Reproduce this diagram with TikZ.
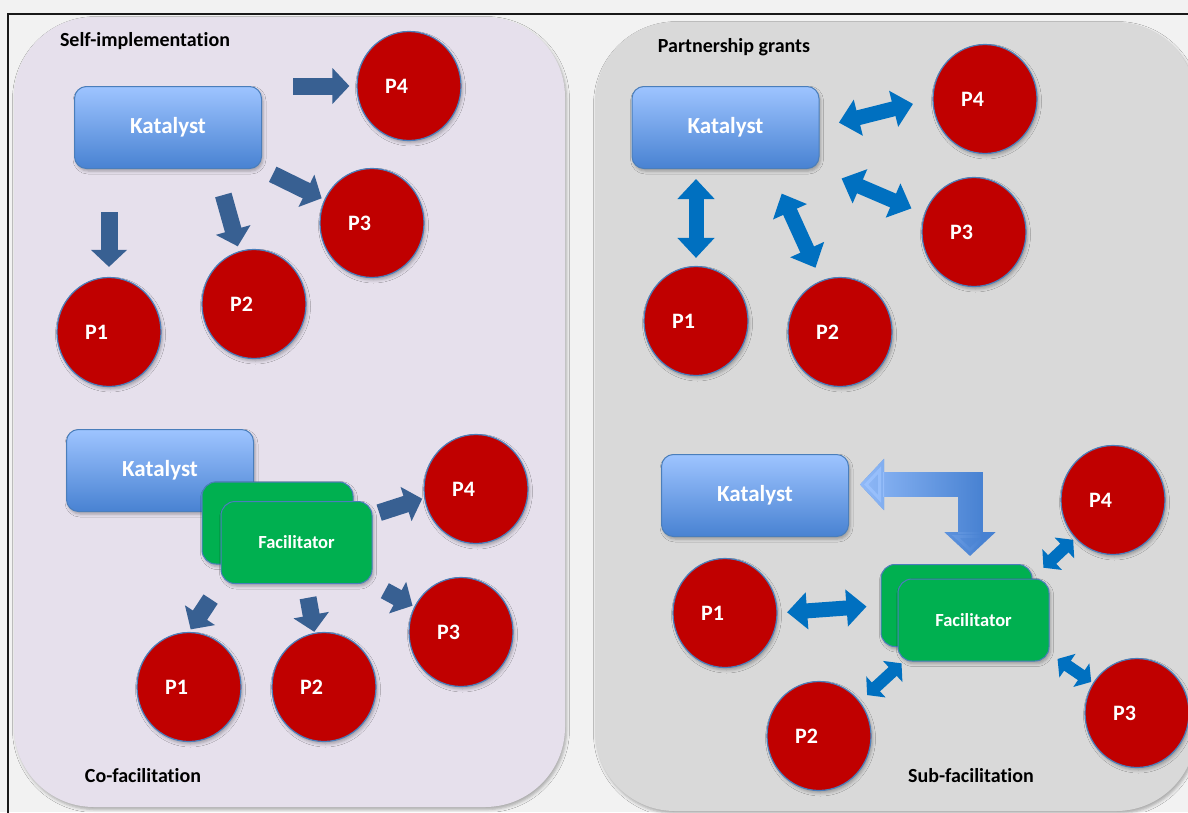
\documentclass[tikz,border=0pt]{standalone}
\usepackage{fontspec}
\setmainfont{Carlito}[Ligatures={NoCommon}]
\usepackage{tikz}
\usetikzlibrary{shapes,arrows.meta,positioning,shadows.blur,calc,fadings}
\definecolor{bgc}{HTML}{F2F2F2}
\definecolor{panelL}{HTML}{E6E0EC}
\definecolor{panelR}{HTML}{D9D9D9}
\definecolor{katlight}{HTML}{9EC4FF}
\definecolor{katdark}{HTML}{4882D2}
\definecolor{boxline}{HTML}{4A7EBB}
\definecolor{pred}{HTML}{C00000}
\definecolor{facgreen}{HTML}{00B050}
\definecolor{flowblue}{HTML}{386092}
\definecolor{linkblue}{HTML}{0070C0}

\begin{document}
\begin{tikzpicture}[x=1pt, y=-1pt,
    soft/.style={blur shadow={shadow xshift=1.5pt, shadow yshift=-2.5pt, shadow blur radius=3pt, shadow opacity=30}},
    panel/.style={rounded corners=80pt, soft},
    katbox/.style={rectangle, rounded corners=12pt, draw=boxline, line width=1pt, top color=katlight, bottom color=katdark, minimum width=187pt, minimum height=82pt, text=white, font=\fontsize{23}{27}\selectfont\bfseries, soft},
    facbox/.style={rectangle, rounded corners=14pt, draw=boxline, line width=1pt, fill=facgreen, minimum width=151pt, minimum height=82pt, text=white, font=\fontsize{18.5}{22}\selectfont\bfseries, soft},
    pnode/.style={ellipse, draw=boxline, line width=1.2pt, fill=pred, minimum width=104pt, minimum height=109pt, inner sep=0pt, text=white, font=\fontsize{22}{26}\selectfont\bfseries, execute at end node={\hspace*{25pt}}, soft},
    caption/.style={font=\fontsize{20}{24}\selectfont\bfseries, text=black},
    flow/.style={draw=flowblue, line width=17pt, -{Triangle[width=35pt, length=17pt]}},
    link/.style={draw=linkblue, line width=15pt, {Triangle[width=36pt, length=20pt]}-{Triangle[width=36pt, length=20pt]}},
    smalllink/.style={draw=linkblue, line width=12pt, {Triangle[width=28pt, length=12pt]}-{Triangle[width=28pt, length=12pt]}},
    bent/.style={line width=25pt, line join=miter, {Triangle[width=50pt, length=24pt]}-{Triangle[width=50pt, length=24pt]}}
]

    \useasboundingbox (0,0) rectangle (1188,812);
    \fill[bgc] (0,0) rectangle (1188,812);
    \draw[line width=2.5pt, black!90] (8,830) |- (1200,14);

    \fill[panelL, panel] (14,17) rectangle (565,807);
    \fill[panelR, panel] (595,22) rectangle (1196,811);

    \node[caption] (tself) at (145,41) {Self-implementation};
    \node[caption] (tpart) at (734,47) {Partnership grants};
    \node[caption] (tco) at (143,776) {Co-facilitation};
    \node[caption] (tsub) at (971,776) {Sub-facilitation};

    % self-implementation
    \node[katbox] (ka) at (168,127.5) {Katalyst};
    \node[pnode] (p1a) at (109,332) {P1};
    \node[pnode] (p2a) at (254,304) {P2};
    \node[pnode] (p3a) at (372,223) {P3};
    \node[pnode] (p4a) at (409,86) {P4};

    \draw[flow, shorten <=31pt, shorten >=7pt] (ka.east |- p4a) -- (p4a);
    \draw[flow, shorten <=12pt, shorten >=3pt] (ka.south east) -- (p3a);
    \draw[flow, shorten <=27pt, shorten >=5pt] ([xshift=48pt]ka.south) -- (p2a);
    \draw[flow, shorten <=43pt, shorten >=10pt] (p1a |- ka.south) -- (p1a);

    % partnership grants
    \node[katbox] (kb) at (725.5,127.5) {Katalyst};
    \node[pnode] (p1b) at (696,321) {P1};
    \node[pnode] (p2b) at (840,332) {P2};
    \node[pnode] (p3b) at (974,232) {P3};
    \node[pnode] (p4b) at (985,99) {P4};

    \draw[link, shorten <=20pt, shorten >=20pt] (kb.east) -- (p4b.west);
    \draw[link, shorten <=24pt, shorten >=14pt] (kb.south east) -- (p3b.160);
    \draw[link, shorten <=10pt, shorten >=8pt] (p1b |- kb.south) -- (p1b);
    \draw[link, shorten <=27pt, shorten >=14pt] ([xshift=45pt]kb.south) -- (p2b.110);

    % co-facilitation
    \node[katbox] (kc) at (160,470.5) {Katalyst};
    \node[facbox] (fcback) at (277.5,523) {};
    \node[facbox] (fc) at (296.5,542.5) {Facilitator};
    \node[pnode] (p1c) at (189,687) {P1};
    \node[pnode] (p2c) at (324,687) {P2};
    \node[pnode] (p3c) at (461,632) {P3};
    \node[pnode] (p4c) at (476,489) {P4};

    \draw[flow, shorten <=7pt, shorten >=2pt] (fc.20) -- (p4c.190);
    \draw[flow, shorten <=14pt, shorten >=2pt] (fc.south east) -- (p3c);
    \draw[flow, shorten <=18pt, shorten >=3pt] (fc.south west) -- (p1c.north);
    \draw[flow, shorten <=14pt, shorten >=1pt] ([xshift=9pt]fc.south) -- (p2c.100);

    % sub-facilitation
    \node[katbox] (kd) at (755,495.5) {Katalyst};
    \node[facbox] (fdback) at (956.5,605.5) {};
    \node[facbox] (fd) at (973.5,620) {Facilitator};
    \node[pnode] (p1d) at (725,613) {P1};
    \node[pnode] (p2d) at (819,736) {P2};
    \node[pnode] (p3d) at (1137,713) {P3};
    \node[pnode] (p4d) at (1113,500) {P4};

    \draw[bent, draw=katdark, shorten <=11pt, shorten >=8pt] ([yshift=11pt]kd.east) -| ([xshift=13.5pt]fdback.north);
    \draw[bent, draw=katlight, path fading=east, shorten <=11pt, shorten >=8pt] ([yshift=11pt]kd.east) -| ([xshift=13.5pt]fdback.north);
    \draw[link, shorten <=9.5pt, shorten >=14pt] (p1d.east) -- (fdback.west);
    \draw[smalllink, shorten <=15pt, shorten >=2.5pt] ([yshift=-14pt]fdback.north east) -- (p4d.225);
    \draw[smalllink, shorten <=9.6pt, shorten >=2.7pt] (p2d.40) -- ([xshift=6pt]fd.south west);
    \draw[smalllink, shorten <=9.7pt, shorten >=2pt] ([yshift=8pt]fd.south east) -- (p3d);

\end{tikzpicture}
\end{document}
